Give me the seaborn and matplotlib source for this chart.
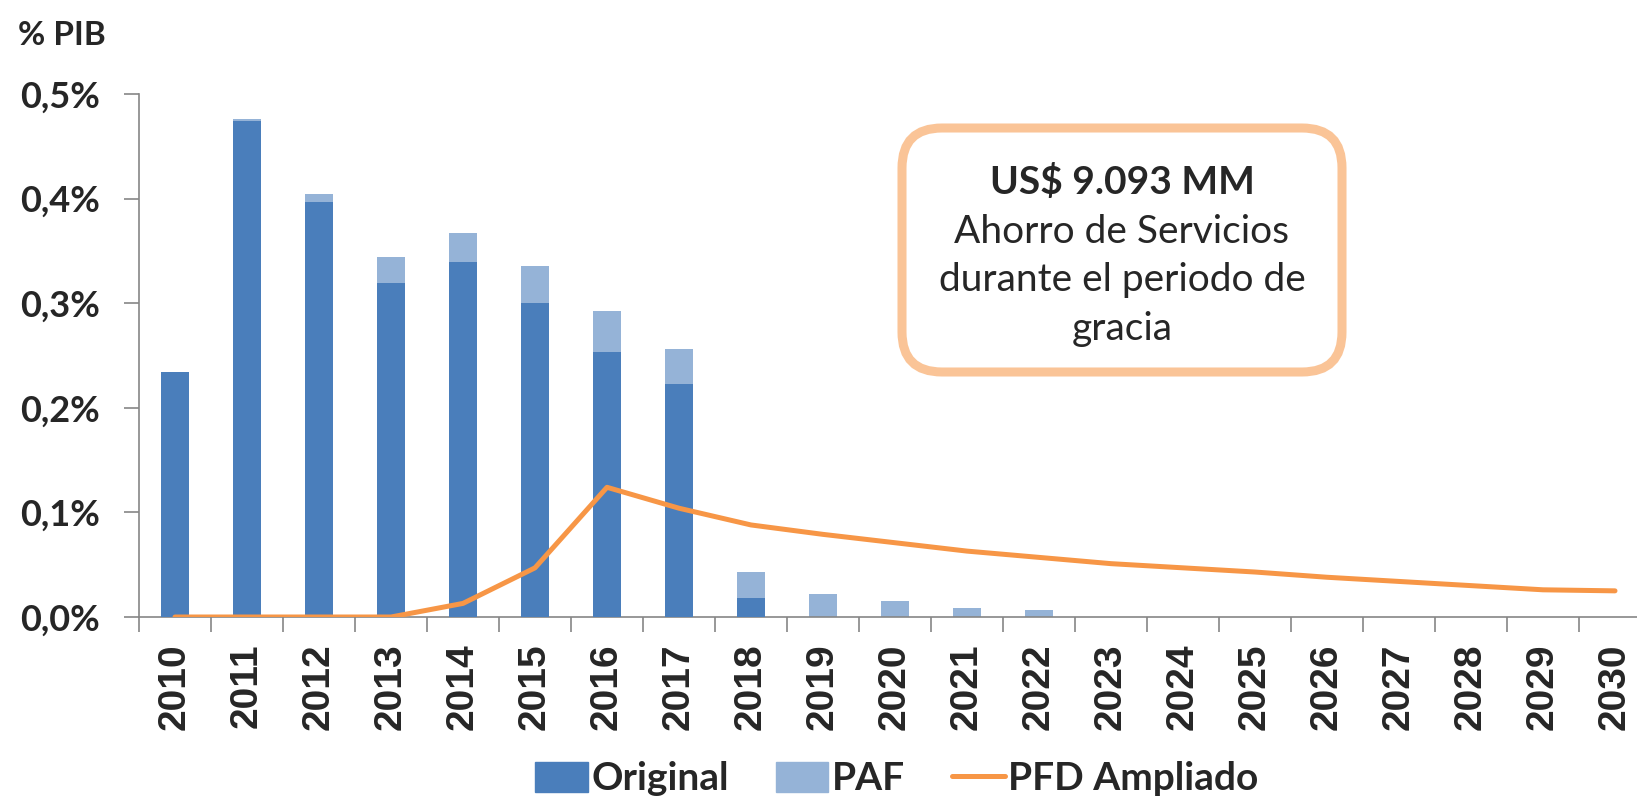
"""
Ahorro de servicios (% PIB): Original + PAF stacked bars, PFD Ampliado line.
"""
import matplotlib
matplotlib.use("Agg")
import matplotlib.pyplot as plt
import numpy as np
import pandas as pd
import seaborn as sns
from matplotlib.patches import FancyBboxPatch, Rectangle
from matplotlib.lines import Line2D

years = [str(y) for y in range(2010, 2031)]
original = [0.234, 0.474, 0.397, 0.319, 0.339, 0.300, 0.253, 0.223, 0.018,
            0.0, 0.0, 0.0, 0.0, 0.0, 0.0, 0.0, 0.0, 0.0, 0.0, 0.0, 0.0]
paf = [0.0, 0.002, 0.007, 0.025, 0.028, 0.036, 0.040, 0.033, 0.025,
       0.022, 0.015, 0.009, 0.007, 0.0, 0.0, 0.0, 0.0, 0.0, 0.0, 0.0, 0.0]
pfd_ampliado = [0.0, 0.0, 0.0, 0.0, 0.013, 0.047, 0.124, 0.104, 0.088, 0.079,
                0.071, 0.063, 0.057, 0.051, 0.047, 0.043, 0.038, 0.034, 0.030,
                0.026, 0.025]
y_ticks = [0.0, 0.1, 0.2, 0.3, 0.4, 0.5]
y_labels = ["0,0%", "0,1%", "0,2%", "0,3%", "0,4%", "0,5%"]

C_ORIG = "#4A7EBB"
C_PAF = "#95B3D7"
C_LINE = "#F79646"
C_BOX = "#FAC497"
C_AXIS = "#868686"

df = pd.DataFrame({"year": years, "original": original, "paf": paf,
                   "pfd": pfd_ampliado})
df["total"] = df["original"] + df["paf"]
df["pos"] = np.arange(len(df))

sns.set_theme(style="white")
plt.rcParams["font.family"] = ["Lato", "DejaVu Sans"]

W, H = 1637, 798
fig = plt.figure(figsize=(W / 100, H / 100), dpi=100)
ax = fig.add_axes([139 / W, (H - 617) / H, 21 * 72 / W, (617 - 94) / H])

sns.barplot(data=df, x="year", y="total", color=C_PAF, width=0.39,
            saturation=1, linewidth=0, ax=ax, zorder=2)
sns.barplot(data=df, x="year", y="original", color=C_ORIG, width=0.39,
            saturation=1, linewidth=0, ax=ax, zorder=3)
sns.lineplot(data=df, x="pos", y="pfd", color=C_LINE, linewidth=3.6,
             ax=ax, zorder=4)

ax.set_xlim(-0.5, len(years) - 0.5)
ax.set_ylim(0, 0.5)
ax.set_xlabel("")
ax.set_ylabel("")

ax.set_yticks(y_ticks)
ax.set_yticklabels(y_labels, fontsize=26, fontweight="bold",
                   fontfamily="Lato")
ax.tick_params(axis="y", direction="out", length=11, width=1.2,
               color=C_AXIS, pad=17, left=True)

ax.set_xticks(df["pos"])
ax.set_xticklabels(years, rotation=90, fontsize=28, fontweight="bold",
                   fontfamily="Liberation Sans")
ax.set_xticks(np.arange(-0.5, len(years)), minor=True)
ax.tick_params(axis="x", which="major", length=0, pad=19)
ax.tick_params(axis="x", which="minor", direction="out", length=11,
               width=1.2, color=C_AXIS, bottom=True)

for side in ["top", "right"]:
    ax.spines[side].set_visible(False)
for side in ["left", "bottom"]:
    ax.spines[side].set_color(C_AXIS)
    ax.spines[side].set_linewidth(1.2)

# overlay in pixel coordinates for the annotation box and labels
ov = fig.add_axes([0, 0, 1, 1], zorder=10)
ov.set_xlim(0, W)
ov.set_ylim(H, 0)
ov.axis("off")
ov.patch.set_alpha(0)

ov.text(18, 45, "% PIB", fontsize=24, fontweight="bold", va="baseline",
        ha="left")

box = FancyBboxPatch((902, 128), 440, 244,
                     boxstyle="round,pad=0,rounding_size=40",
                     facecolor="white", edgecolor=C_BOX, linewidth=6.5)
ov.add_patch(box)
cx = 1122
ov.text(cx, 194, "US$ 9.093 MM", fontsize=28, fontweight="bold",
        ha="center", va="baseline")
for txt, yb in [("Ahorro de Servicios", 243),
                ("durante el periodo de", 291),
                ("gracia", 340)]:
    ov.text(cx, yb, txt, fontsize=28, ha="center", va="baseline")

handles = [Rectangle((0, 0), 1, 1, color=C_ORIG),
           Rectangle((0, 0), 1, 1, color=C_PAF),
           Line2D([0], [0], color=C_LINE, linewidth=3.6)]
fig.legend(handles, ["Original", "PAF", "PFD Ampliado"],
           loc="center", bbox_to_anchor=(897 / W, (H - 779) / H),
           ncol=3, frameon=False, handlelength=1.35, handleheight=0.8,
           handletextpad=0.1, columnspacing=1.2,
           prop={"family": "Lato", "weight": "bold", "size": 28})

fig.savefig("out.png", dpi=100)
